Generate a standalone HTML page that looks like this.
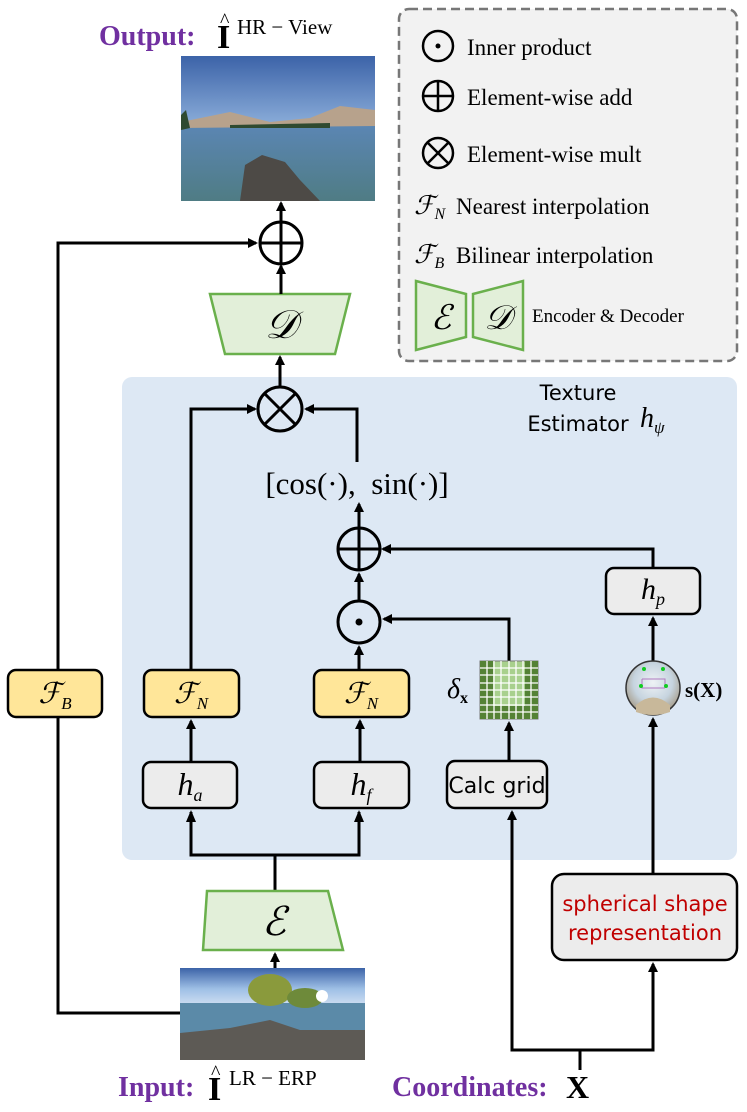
<!DOCTYPE html>
<html><head><meta charset="utf-8"><style>
html,body{margin:0;padding:0;background:#fff;}
svg text{font-family:"Liberation Serif",serif;}
</style></head><body>
<svg width="747" height="1107" viewBox="0 0 747 1107" xmlns="http://www.w3.org/2000/svg">
<defs>
<marker id="a" markerWidth="10" markerHeight="10" refX="8" refY="5" orient="auto" markerUnits="userSpaceOnUse"><path d="M0,0 L10,5 L0,10 z" fill="#000"/></marker>
<linearGradient id="sky" x1="0" y1="0" x2="0" y2="1"><stop offset="0" stop-color="#3c63a8"/><stop offset="0.6" stop-color="#9fc0e6"/><stop offset="1" stop-color="#c8daf0"/></linearGradient>
<linearGradient id="water" x1="0" y1="0" x2="0" y2="1"><stop offset="0" stop-color="#5b86b4"/><stop offset="1" stop-color="#4f7c84"/></linearGradient>
<radialGradient id="sph" cx="0.5" cy="0.4" r="0.6"><stop offset="0" stop-color="#eef2f5"/><stop offset="0.6" stop-color="#c6d4df"/><stop offset="1" stop-color="#a59a86"/></radialGradient>
</defs>

<!-- legend -->
<rect x="399" y="9" width="338" height="352" rx="10" fill="#f2f2f2" stroke="#777" stroke-width="2.5" stroke-dasharray="9,5"/>
<circle cx="438" cy="46" r="15" fill="none" stroke="#000" stroke-width="2.5"/><circle cx="438" cy="46" r="2.5"/>
<text x="467" y="55" font-size="23">Inner product</text>
<circle cx="438" cy="96" r="15" fill="none" stroke="#000" stroke-width="2.5"/><path d="M423,96H453M438,81V111" stroke="#000" stroke-width="2.5"/>
<text x="467" y="105" font-size="23">Element-wise add</text>
<circle cx="438" cy="153" r="15" fill="none" stroke="#000" stroke-width="2.5"/><path d="M427,142L449,164M449,142L427,164" stroke="#000" stroke-width="2.5"/>
<text x="467" y="162" font-size="23">Element-wise mult</text>
<text x="414" y="214" font-size="26" font-style="italic">ℱ<tspan font-size="16" dy="5">N</tspan></text>
<text x="456" y="214" font-size="23">Nearest interpolation</text>
<text x="414" y="263" font-size="26" font-style="italic">ℱ<tspan font-size="16" dy="5">B</tspan></text>
<text x="456" y="263" font-size="23">Bilinear interpolation</text>
<path d="M416,281 L466,294 L466,337 L416,350 z" fill="#e2efd9" stroke="#6ab04c" stroke-width="2.5"/>
<path d="M473,294 L523,281 L523,350 L473,337 z" fill="#e2efd9" stroke="#6ab04c" stroke-width="2.5"/>
<text x="441" y="329" font-size="34" font-style="italic" text-anchor="middle">ℰ</text>
<text x="498" y="329" font-size="34" font-style="italic" text-anchor="middle">𝒟</text>
<text x="532" y="322" font-size="19">Encoder &amp; Decoder</text>

<!-- panel -->
<rect x="122" y="377" width="615" height="483" rx="10" fill="#dde8f4"/>
<text x="578" y="400" font-size="21" text-anchor="middle" style="font-family:'DejaVu Sans',sans-serif">Texture</text>
<text x="578" y="431" font-size="21" text-anchor="middle" style="font-family:'DejaVu Sans',sans-serif">Estimator</text>
<text x="640" y="427" font-size="28" font-style="italic">h<tspan font-size="17" dy="6">ψ</tspan></text>

<!-- F_B line (under boxes) -->
<polyline points="181,1013 58,1013 58,243 256,243" fill="none" stroke="#000" stroke-width="3" marker-end="url(#a)"/>

<!-- output -->
<text x="99" y="45" font-size="28" font-weight="bold" fill="#7030a0">Output:</text>
<text x="217" y="48" font-size="34" font-weight="bold">I</text><text x="220" y="27" font-size="20">^</text>
<text x="237" y="34" font-size="21">HR − View</text>
<rect x="181" y="56" width="194" height="145" fill="url(#sky)"/>
<rect x="181" y="124" width="194" height="77" fill="url(#water)"/>
<path d="M181,122 L230,112 L270,122 L310,118 L340,106 L375,110 L375,126 L181,128z" fill="#b7a28c"/>
<path d="M181,115 L186,110 L190,128 L181,130z" fill="#2f4a30"/>
<path d="M230,125 L330,123 L330,128 L230,128z" fill="#2f4a30"/>
<path d="M240,201 L245,165 L262,155 L285,162 L300,180 L320,201z" fill="#4d4a46"/>

<!-- output oplus -->
<circle cx="281" cy="243" r="21" fill="#fff" stroke="#000" stroke-width="3"/><path d="M260,243H302M281,222V264" stroke="#000" stroke-width="3"/>
<line x1="281" y1="222" x2="281" y2="203" stroke="#000" stroke-width="3" marker-end="url(#a)"/>
<!-- D -->
<path d="M210,294 L350,294 L335,354 L225,354 z" fill="#e2efd9" stroke="#6ab04c" stroke-width="2.5"/>
<text x="281" y="338" font-size="40" font-style="italic" text-anchor="middle">𝒟</text>
<line x1="281" y1="294" x2="281" y2="266" stroke="#000" stroke-width="3" marker-end="url(#a)"/>
<!-- otimes -->
<circle cx="280" cy="409" r="22" fill="none" stroke="#000" stroke-width="3"/><path d="M264,393L296,425M296,393L264,425" stroke="#000" stroke-width="3"/>
<line x1="280" y1="387" x2="280" y2="357" stroke="#000" stroke-width="3" marker-end="url(#a)"/>
<polyline points="191,670 191,409 255,409" fill="none" stroke="#000" stroke-width="3" marker-end="url(#a)"/>
<polyline points="357,462 357,409 306,409" fill="none" stroke="#000" stroke-width="3" marker-end="url(#a)"/>
<text x="357" y="494" font-size="31" text-anchor="middle" xml:space="preserve">[cos(·),  sin(·)]</text>

<!-- oplus inner -->
<circle cx="359" cy="549" r="21" fill="none" stroke="#000" stroke-width="3"/><path d="M338,549H380M359,528V570" stroke="#000" stroke-width="3"/>
<line x1="359" y1="528" x2="359" y2="504" stroke="#000" stroke-width="3" marker-end="url(#a)"/>
<polyline points="653,568 653,549 383,549" fill="none" stroke="#000" stroke-width="3" marker-end="url(#a)"/>
<!-- odot -->
<circle cx="359" cy="622" r="21" fill="none" stroke="#000" stroke-width="3"/><circle cx="359" cy="622" r="3.5"/>
<line x1="359" y1="601" x2="359" y2="574" stroke="#000" stroke-width="3" marker-end="url(#a)"/>
<polyline points="509,661 509,619 384,619" fill="none" stroke="#000" stroke-width="3" marker-end="url(#a)"/>
<line x1="359" y1="670" x2="359" y2="647" stroke="#000" stroke-width="3" marker-end="url(#a)"/>

<!-- h_p -->
<rect x="606" y="568" width="94" height="46" rx="8" fill="#ececec" stroke="#000" stroke-width="2.5"/>
<text x="653" y="599" font-size="30" font-style="italic" text-anchor="middle">h<tspan font-size="18" dy="6">p</tspan></text>
<line x1="653" y1="661" x2="653" y2="618" stroke="#000" stroke-width="3" marker-end="url(#a)"/>
<!-- sphere -->
<circle cx="653" cy="688" r="27" fill="url(#sph)" stroke="#333" stroke-width="1.5"/>
<path d="M636,705 Q653,690 670,705 L670,712 Q653,718 636,712z" fill="#c8b89a"/>
<path d="M642,679 H665 V688 M642,679 V688 H665" fill="none" stroke="#b07ac0" stroke-width="1"/>
<circle cx="644" cy="669" r="2" fill="#1c2"/><circle cx="663" cy="669" r="2" fill="#1c2"/><circle cx="641" cy="686" r="2" fill="#1c2"/><circle cx="666" cy="686" r="2" fill="#1c2"/>
<text x="685" y="697" font-size="21" font-weight="bold">s(X)</text>
<line x1="653" y1="873" x2="653" y2="719" stroke="#000" stroke-width="3" marker-end="url(#a)"/>

<!-- delta grid -->
<g>
<rect x="480" y="661" width="58" height="58" fill="#a8d08d" stroke="#777"/>
<rect x="480" y="661" width="13" height="58" fill="#548235"/>
<rect x="525" y="661" width="13" height="58" fill="#548235"/>
<rect x="480" y="706" width="58" height="13" fill="#548235"/>
<path d="M487,661V719M494,661V719M501,661V719M509,661V719M516,661V719M523,661V719M531,661V719M480,668H538M480,675H538M480,683H538M480,690H538M480,697H538M480,705H538M480,712H538" stroke="#fff" stroke-width="1.3"/>
</g>
<text x="447" y="698" font-size="28" font-style="italic">δ<tspan font-size="16" font-weight="bold" font-style="normal" dy="5">x</tspan></text>
<line x1="509" y1="762" x2="509" y2="723" stroke="#000" stroke-width="3" marker-end="url(#a)"/>
<!-- calc grid -->
<rect x="447" y="761" width="100" height="47" rx="8" fill="#ececec" stroke="#000" stroke-width="2.5"/>
<text x="497" y="793" font-size="22" text-anchor="middle" style="font-family:'DejaVu Sans',sans-serif">Calc grid</text>

<!-- F boxes -->
<rect x="8" y="670" width="94" height="47" rx="8" fill="#ffe699" stroke="#000" stroke-width="2.5"/>
<text x="55" y="703" font-size="29" font-style="italic" text-anchor="middle">ℱ<tspan font-size="17" dy="6">B</tspan></text>
<rect x="144" y="670" width="95" height="47" rx="8" fill="#ffe699" stroke="#000" stroke-width="2.5"/>
<text x="191" y="703" font-size="29" font-style="italic" text-anchor="middle">ℱ<tspan font-size="17" dy="6">N</tspan></text>
<rect x="314" y="670" width="95" height="47" rx="8" fill="#ffe699" stroke="#000" stroke-width="2.5"/>
<text x="361" y="703" font-size="29" font-style="italic" text-anchor="middle">ℱ<tspan font-size="17" dy="6">N</tspan></text>
<!-- h boxes -->
<rect x="143" y="762" width="94" height="46" rx="8" fill="#ececec" stroke="#000" stroke-width="2.5"/>
<text x="190" y="795" font-size="32" font-style="italic" text-anchor="middle">h<tspan font-size="18" dy="6">a</tspan></text>
<rect x="314" y="762" width="95" height="46" rx="8" fill="#ececec" stroke="#000" stroke-width="2.5"/>
<text x="361" y="795" font-size="32" font-style="italic" text-anchor="middle">h<tspan font-size="18" dy="6">f</tspan></text>
<line x1="191" y1="762" x2="191" y2="721" stroke="#000" stroke-width="3" marker-end="url(#a)"/>
<line x1="360" y1="762" x2="360" y2="721" stroke="#000" stroke-width="3" marker-end="url(#a)"/>
<polyline points="191,812 191,855 359,855 359,812" fill="none" stroke="#000" stroke-width="3"/>
<path d="M186,822 L191,810 L196,822z M354,822 L359,810 L364,822z"/>
<line x1="275" y1="855" x2="275" y2="892" stroke="#000" stroke-width="3"/>

<!-- E -->
<path d="M207,891 L328,891 L343,950 L203,950 z" fill="#e2efd9" stroke="#6ab04c" stroke-width="2.5"/>
<text x="274" y="935" font-size="40" font-style="italic" text-anchor="middle">ℰ</text>
<line x1="275" y1="968" x2="275" y2="954" stroke="#000" stroke-width="3" marker-end="url(#a)"/>

<!-- input image -->
<rect x="180" y="968" width="185" height="92" fill="#4a79b8"/>
<rect x="180" y="968" width="185" height="35" fill="url(#sky)"/>
<rect x="180" y="1003" width="185" height="30" fill="#5b8aa8"/>
<path d="M180,1033 L230,1028 L270,1020 L300,1030 L365,1030 L365,1060 L180,1060z" fill="#5d5a55"/>
<ellipse cx="270" cy="990" rx="22" ry="16" fill="#8a9a3c"/>
<ellipse cx="305" cy="998" rx="18" ry="10" fill="#6e8a3a"/>
<circle cx="322" cy="996" r="6" fill="#fff"/>

<!-- sph shape box -->
<rect x="552" y="874" width="185" height="86" rx="12" fill="#ececec" stroke="#000" stroke-width="2.5"/>
<text x="645" y="911" font-size="21" fill="#c00000" text-anchor="middle" style="font-family:'DejaVu Sans',sans-serif">spherical shape</text>
<text x="645" y="940" font-size="21" fill="#c00000" text-anchor="middle" style="font-family:'DejaVu Sans',sans-serif">representation</text>

<!-- coordinates lines -->
<polyline points="580,1070 580,1050 512,1050 512,812" fill="none" stroke="#000" stroke-width="3" marker-end="url(#a)"/>
<polyline points="580,1050 653,1050 653,964" fill="none" stroke="#000" stroke-width="3" marker-end="url(#a)"/>

<!-- labels -->
<text x="118" y="1096" font-size="28" font-weight="bold" fill="#7030a0">Input:</text>
<text x="208" y="1100" font-size="34" font-weight="bold">I</text><text x="211" y="1079" font-size="20">^</text>
<text x="229" y="1085" font-size="21">LR − ERP</text>
<text x="392" y="1096" font-size="28" font-weight="bold" fill="#7030a0">Coordinates:</text>
<text x="566" y="1098" font-size="32" font-weight="bold">X</text>
</svg>
</body></html>
